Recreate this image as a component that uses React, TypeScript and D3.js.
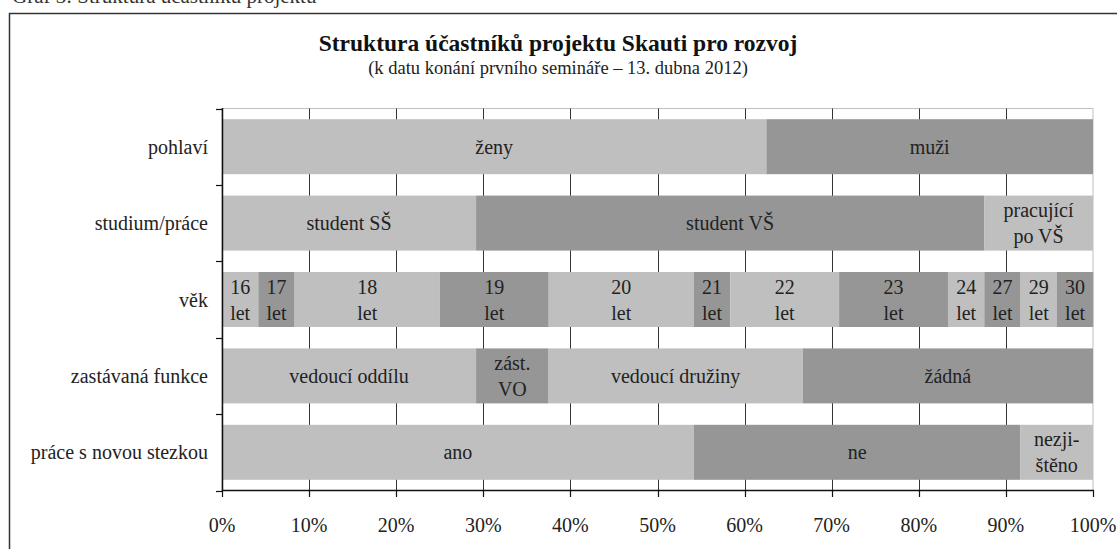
import React from "react";
import * as d3 from "d3";

const categories = ["pohlaví", "studium/práce", "věk", "zastávaná funkce", "práce s novou stezkou"];

const pohlaviLabels = [["ženy"], ["muži"]];
const pohlaviValues = [62.5, 37.5];

const studiumLabels = [["student SŠ"], ["student VŠ"], ["pracující", "po VŠ"]];
const studiumValues = [29.17, 58.33, 12.5];

const vekLabels = [["16", "let"], ["17", "let"], ["18", "let"], ["19", "let"], ["20", "let"], ["21", "let"], ["22", "let"], ["23", "let"], ["24", "let"], ["27", "let"], ["29", "let"], ["30", "let"]];
const vekValues = [4.17, 4.17, 16.67, 12.5, 16.67, 4.17, 12.5, 12.5, 4.17, 4.17, 4.17, 4.17];

const funkceLabels = [["vedoucí oddílu"], ["zást.", "VO"], ["vedoucí družiny"], ["žádná"]];
const funkceValues = [29.17, 8.33, 29.17, 33.33];

const stezkaLabels = [["ano"], ["ne"], ["nezji-", "štěno"]];
const stezkaValues = [54.17, 37.5, 8.33];

const xTicks = [0, 10, 20, 30, 40, 50, 60, 70, 80, 90, 100];

const title = "Struktura účastníků projektu Skauti pro rozvoj";
const subtitle = "(k datu konání prvního semináře – 13. dubna 2012)";
const caption = "Graf 3: Struktura účastníků projektu";

const rows = [
  { values: pohlaviValues, labels: pohlaviLabels },
  { values: studiumValues, labels: studiumLabels },
  { values: vekValues, labels: vekLabels },
  { values: funkceValues, labels: funkceLabels },
  { values: stezkaValues, labels: stezkaLabels },
];

const LIGHT = "#bfbfbf";
const DARK = "#969696";
const FONT = "Liberation Serif, Times New Roman, serif";

export default function App() {
  const W = 1117, H = 549;
  const x = d3.scaleLinear().domain([0, 100]).range([222, 1093]);
  const y = d3.scaleBand().domain(categories).range([108.5, 490.5]).paddingInner(0.28).paddingOuter(0.14);
  const yOuter = d3.scaleBand().domain(categories).range([108.5, 490.5]);
  const bw = y.bandwidth();
  const fs = 20;

  return (
    <svg width={W} height={H} style={{ position: "absolute", left: 0, top: 0, background: "#fff", fontFamily: FONT }}>
      <text x={12} y={3} fontSize={21} fill="#333">{caption}</text>
      <rect x={9.5} y={13.5} width={1130} height={560} fill="#fff" stroke="#333" strokeWidth={1.5} />
      <text x={558} y={51} textAnchor="middle" fontSize={23.5} fontWeight="bold" fill="#111">{title}</text>
      <text x={558} y={74} textAnchor="middle" fontSize={18.5} fill="#222">{subtitle}</text>

      <rect x={x(0)} y={108.5} width={x(100) - x(0)} height={382} fill="none" stroke="#c0c0c0" strokeWidth={1} />
      {xTicks.filter(t => t > 0 && t < 100).map(t => (
        <line key={t} x1={Math.round(x(t)) + 0.5} x2={Math.round(x(t)) + 0.5} y1={108.5} y2={490.5} stroke="#333" strokeWidth={1} />
      ))}

      {rows.map((row, ri) => {
        const cat = categories[ri];
        const y0 = y(cat)!;
        const cum = d3.cumsum(row.values);
        return (
          <g key={cat}>
            {row.values.map((v, i) => {
              const start = i === 0 ? 0 : cum[i - 1];
              const x0 = x(start);
              const x1 = x(start + v);
              const lines = row.labels[i];
              const cx = (x0 + x1) / 2;
              const cy = y0 + bw / 2;
              return (
                <g key={i}>
                  <rect x={x0} y={y0} width={x1 - x0} height={bw} fill={i % 2 === 0 ? LIGHT : DARK} />
                  {lines.map((ln, li) => (
                    <text key={li} x={cx} y={cy + (li - (lines.length - 1) / 2) * 26} dy="0.35em" textAnchor="middle" fontSize={fs} fill="#222">{ln}</text>
                  ))}
                </g>
              );
            })}
          </g>
        );
      })}

      <line x1={222.5} x2={222.5} y1={108} y2={491} stroke="#111" strokeWidth={1.5} />
      {[...categories.map(c => yOuter(c)!), 490.5].map((t, i) => (
        <line key={i} x1={216} x2={222.5} y1={Math.round(t) + 0.5} y2={Math.round(t) + 0.5} stroke="#111" strokeWidth={1.2} />
      ))}
      {categories.map(c => (
        <text key={c} x={208} y={y(c)! + bw / 2} dy="0.35em" textAnchor="end" fontSize={fs} fill="#222">{c}</text>
      ))}

      <line x1={222} x2={1094} y1={490.5} y2={490.5} stroke="#111" strokeWidth={1.5} />
      {xTicks.map(t => (
        <line key={t} x1={Math.round(x(t)) + 0.5} x2={Math.round(x(t)) + 0.5} y1={490.5} y2={497} stroke="#111" strokeWidth={1.2} />
      ))}
      {xTicks.map(t => (
        <text key={t} x={x(t)} y={525} dy="0.35em" textAnchor="middle" fontSize={fs} fill="#222">{t + "%"}</text>
      ))}
    </svg>
  );
}
